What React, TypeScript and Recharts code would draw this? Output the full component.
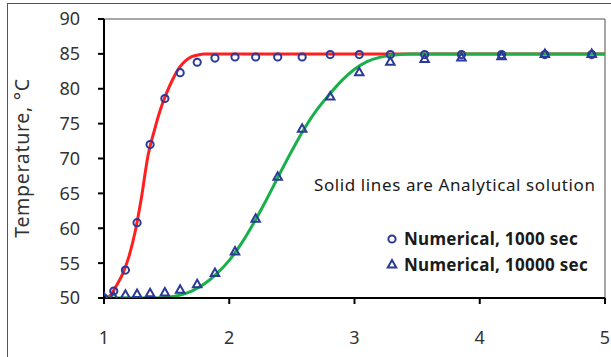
import React from "react";
import {
  ComposedChart,
  Line,
  Scatter,
  XAxis,
  YAxis,
  ReferenceLine,
  Legend,
} from "recharts";

// x positions of the numerical samples
const numericalX = [1.0, 1.078, 1.171, 1.264, 1.368, 1.486, 1.608, 1.744, 1.886, 2.046, 2.211, 2.387, 2.582, 2.806, 3.038, 3.286, 3.56, 3.854, 4.174, 4.52, 4.894];
// Numerical, 1000 sec (circles)
const numerical1000 = [50, 51.0, 54.0, 60.8, 72.0, 78.6, 82.3, 83.8, 84.4, 84.55, 84.55, 84.55, 84.55, 84.9, 84.9, 84.9, 84.9, 84.9, 84.9, 84.9, 84.9];
// Numerical, 10000 sec (triangles)
const numerical10000 = [50, 50.1, 50.4, 50.5, 50.6, 50.7, 51.1, 51.9, 53.5, 56.6, 61.3, 67.3, 74.2, 78.8, 82.3, 83.8, 84.2, 84.4, 84.6, 84.9, 84.9];

// Analytical solution, 1000 sec (red)
const analyticalX1000 = [1.0, 1.03, 1.06, 1.1, 1.15, 1.2, 1.25, 1.3, 1.35, 1.4, 1.45, 1.5, 1.55, 1.6, 1.65, 1.7, 1.75, 1.8, 5];
const analytical1000 = [50, 50.1, 50.6, 51.8, 53.5, 56.0, 59.6, 64.5, 70.3, 73.9, 77.0, 79.4, 81.4, 83.0, 84.0, 84.6, 84.85, 85, 85];

// Analytical solution, 10000 sec (green)
const analyticalX10000 = [1.0, 1.4, 1.5, 1.6, 1.7, 1.8, 1.9, 2.0, 2.1, 2.2, 2.3, 2.4, 2.5, 2.6, 2.7, 2.8, 2.9, 3.0, 3.1, 3.2, 3.3, 3.45, 5];
const analytical10000 = [50, 50, 50.1, 50.4, 51.0, 52.0, 53.5, 55.4, 57.9, 60.9, 64.2, 67.7, 71.1, 74.3, 77.0, 79.2, 81.2, 82.8, 83.9, 84.5, 84.8, 85, 85];

const xTicks = [1, 2, 3, 4, 5];
const yTicks = [50, 55, 60, 65, 70, 75, 80, 85, 90];

const legendTitle = "Solid lines are Analytical solution";
const legendCircle = "Numerical, 1000 sec";
const legendTriangle = "Numerical, 10000 sec";
const yLabel = "Temperature, \u00B0C";

const toPoints = (xs: number[], ys: number[]) => xs.map((x, i) => ({ x, y: ys[i] }));

const red1000 = toPoints(analyticalX1000, analytical1000);
const green10000 = toPoints(analyticalX10000, analytical10000);
const circles = toPoints(numericalX, numerical1000);
const triangles = toPoints(numericalX, numerical10000);

const MARK = "#2B3A98";
const FONT = "'Noto Sans', 'Liberation Sans', sans-serif";

const CircleShape = (props: any) => (
  <circle cx={props.cx} cy={props.cy} r={3.6} fill="none" stroke={MARK} strokeWidth={2} />
);

const TriangleShape = (props: any) => {
  const { cx, cy } = props;
  const h = 7.5;
  const w = 8.5;
  const top = cy - (2 * h) / 3;
  const bot = cy + h / 3;
  return (
    <polygon
      points={`${cx},${top} ${cx - w / 2},${bot} ${cx + w / 2},${bot}`}
      fill="none"
      stroke={MARK}
      strokeWidth={2}
      strokeLinejoin="miter"
    />
  );
};

const itemStyle: React.CSSProperties = {
  position: "absolute",
  left: 92,
  fontSize: 17,
  fontWeight: 700,
  whiteSpace: "nowrap",
  lineHeight: "24px",
  letterSpacing: 0.3,
};

const LegendBox = () => (
  <div style={{ fontFamily: FONT, color: "#1a1a1a", position: "relative", width: 300, height: 110 }}>
    <div style={{ position: "absolute", left: 2, top: 0, fontSize: 17, letterSpacing: 0.6, whiteSpace: "nowrap", lineHeight: "24px" }}>
      {legendTitle}
    </div>
    <svg style={{ position: "absolute", left: 0, top: 0 }} width={300} height={110}>
      <circle cx={80} cy={66} r={3.6} fill="none" stroke={MARK} strokeWidth={2} />
      <polygon points={`80,${92 - 5} ${75.75},${92 + 2.5} ${84.25},${92 + 2.5}`} fill="none" stroke={MARK} strokeWidth={2} />
    </svg>
    <div style={{ ...itemStyle, top: 54 }}>{legendCircle}</div>
    <div style={{ ...itemStyle, top: 80 }}>{legendTriangle}</div>
  </div>
);

const YLabel = () => (
  <text
    x={29}
    y={158}
    transform="rotate(-90, 29, 158)"
    textAnchor="middle"
    fontFamily={FONT}
    fontSize={19.5}
    fill="#333"
    letterSpacing={0.7}
  >
    {yLabel}
  </text>
);

export default function App() {
  return (
    <div style={{ position: "absolute", left: 0, top: 0, width: 611, height: 357, background: "#fff", overflow: "hidden" }}>
      <div
        style={{
          position: "absolute",
          left: 7,
          top: 3,
          width: 700,
          height: 500,
          borderTop: "1.5px solid #555",
          borderLeft: "1.5px solid #555",
        }}
      />
      <div style={{ position: "absolute", left: 0, top: 0 }}>
        <ComposedChart width={611} height={357} margin={{ top: 19, right: 6, bottom: 0, left: 0 }}>
          <XAxis
            type="number"
            dataKey="x"
            domain={[1, 5]}
            ticks={xTicks}
            allowDataOverflow
            height={59}
            axisLine={{ stroke: "#000", strokeWidth: 2 }}
            tickLine={{ stroke: "#000", strokeWidth: 2 }}
            tickSize={6}
            tickMargin={27}
            tick={{ fill: "#333", fontSize: 18, fontFamily: FONT }}
          />
          <YAxis
            type="number"
            dataKey="y"
            domain={[50, 90]}
            ticks={yTicks}
            allowDataOverflow
            width={104}
            axisLine={{ stroke: "#000", strokeWidth: 2 }}
            tickLine={{ stroke: "#000", strokeWidth: 2 }}
            tickSize={6}
            tickMargin={18}
            tick={{ fill: "#333", fontSize: 18, fontFamily: FONT }}
            label={<YLabel />}
          />
          <ReferenceLine y={90} stroke="#8a8a8a" strokeWidth={1.5} />
          <ReferenceLine x={5} stroke="#8a8a8a" strokeWidth={1.5} />
          <Line
            data={red1000}
            dataKey="y"
            type="monotone"
            stroke="#FF1F1F"
            strokeWidth={3}
            dot={false}
            activeDot={false}
            isAnimationActive={false}
          />
          <Line
            data={green10000}
            dataKey="y"
            type="monotone"
            stroke="#19B04B"
            strokeWidth={3}
            dot={false}
            activeDot={false}
            isAnimationActive={false}
          />
          <Scatter data={circles} dataKey="y" shape={<CircleShape />} isAnimationActive={false} />
          <Scatter data={triangles} dataKey="y" shape={<TriangleShape />} isAnimationActive={false} />
          <Legend
            layout="horizontal"
            verticalAlign="middle"
            align="center"
            content={<LegendBox />}
            wrapperStyle={{ position: "absolute", left: 312, top: 173, width: 300, height: 110 }}
          />
        </ComposedChart>
      </div>
    </div>
  );
}
